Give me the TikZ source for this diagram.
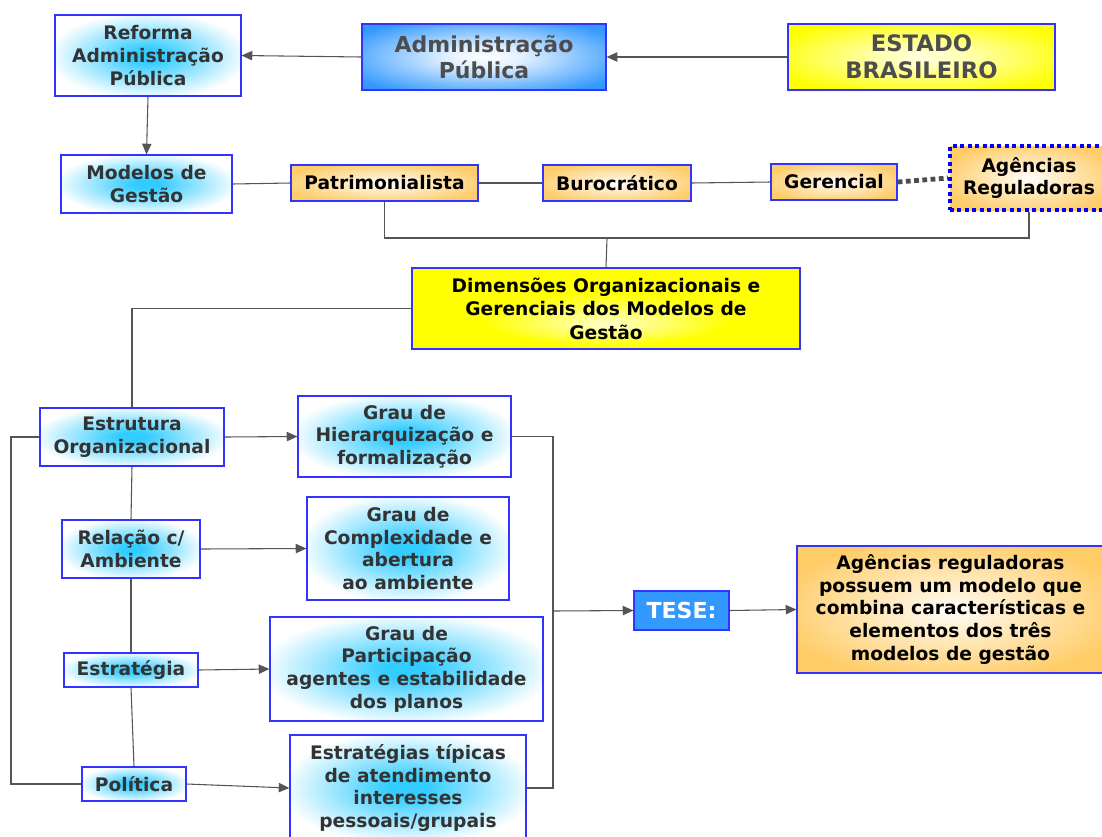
\documentclass[tikz,border=0pt]{standalone}
\usepackage{fontspec}
\setmainfont{DejaVu Sans}
\usetikzlibrary{arrows.meta}

\definecolor{bordblue}{RGB}{51,51,255}
\definecolor{glowcyan}{RGB}{51,204,255}
\definecolor{admblue}{RGB}{51,153,255}
\definecolor{sunyel}{RGB}{255,255,0}
\definecolor{peach}{RGB}{255,204,102}
\definecolor{txtgray}{RGB}{51,51,51}
\definecolor{headgray}{RGB}{77,77,77}
\definecolor{wire}{RGB}{85,85,85}
\definecolor{dotblue}{RGB}{0,0,255}

% soft fills: coloured centre fading out, or pale centre fading in
\pgfdeclareradialshading{blueglow}{\pgfpoint{0bp}{0bp}}{color(0bp)=(glowcyan); color(4bp)=(glowcyan); color(27bp)=(white); color(50bp)=(white)}
\pgfdeclareradialshading{admglow}{\pgfpoint{0bp}{0bp}}{color(0bp)=(white); color(8bp)=(white!85!admblue); color(31bp)=(admblue); color(50bp)=(admblue)}
\pgfdeclareradialshading{yelglow}{\pgfpoint{0bp}{0bp}}{color(0bp)=(white!88!sunyel); color(8bp)=(white!70!sunyel); color(30bp)=(sunyel); color(50bp)=(sunyel)}
\pgfdeclareradialshading{dimglow}{\pgfpoint{0bp}{-10bp}}{color(0bp)=(white!80!sunyel); color(16bp)=(sunyel); color(50bp)=(sunyel)}
\pgfdeclareradialshading{peachglow}{\pgfpoint{0bp}{0bp}}{color(0bp)=(white); color(6bp)=(white!75!peach); color(29bp)=(peach); color(50bp)=(peach)}

\tikzset{
  % a box given by its corners in pixel units: left/top/right/bottom
  span/.style args={#1/#2/#3/#4}{at={({(#1+#3)/2},{(#2+#4)/2})},
    minimum width={(#3-#1)*0.75pt}, minimum height={(#4-#2)*0.75pt}},
  panel/.style={draw=bordblue, line width=0.9pt, inner sep=0pt, align=center,
    font=\bfseries\fontsize{14}{17}\selectfont},
  cyanbox/.style={panel, shading=blueglow, text=txtgray},
  peachbox/.style={panel, shading=peachglow, text=black},
  conn/.style={draw=wire, line width=0.8pt},
  arr/.style={conn, -{Triangle[length=8pt,width=7pt]}},
}

\begin{document}
\begin{tikzpicture}[x=0.75pt,y=-0.75pt]
\clip (0,0) rectangle (1102,836);
\fill[white] (0,0) rectangle (1102,836);

% top row
\node[cyanbox, span=55/15/241/96] (reforma) {Reforma\\Administração\\Pública};
\node[panel, shading=admglow, text=headgray, font=\bfseries\fontsize{16.5}{19.5}\selectfont,
  span=362/24/606/90] (admin) {Administração\\Pública};
\node[panel, shading=yelglow, text=headgray, font=\bfseries\fontsize{17}{20}\selectfont,
  span=788/24/1055/90] (estado) {ESTADO\\BRASILEIRO};

% management models
\node[cyanbox, span=61/155/232/213] (modelos) {Modelos de\\Gestão};
\node[peachbox, span=291/165/478/201] (patri) {Patrimonialista};
\node[peachbox, span=543/165/691/201] (buro) {Burocrático};
\node[peachbox, span=771/164/897/200] (geren) {Gerencial};
\node[peachbox, draw=dotblue, line width=3pt, dash pattern=on 3pt off 2.6pt,
  span=950/146/1108/210] (agenc) {Agências\\Reguladoras};

\node[panel, shading=dimglow, text=black, font=\bfseries\fontsize{14}{17.6}\selectfont,
  span=412/268/800/349] (dimen) {Dimensões Organizacionais e\\Gerenciais dos Modelos de\\Gestão};

% dimensions
\node[cyanbox, span=40/408/224/466] (estru) {Estrutura\\Organizacional};
\node[cyanbox, span=62/520/200/578] (rela) {Relação c/\\Ambiente};
\node[cyanbox, span=64/653/198/687] (estra) {Estratégia};
\node[cyanbox, span=82/767/186/801] (polit) {Política};

\node[cyanbox, span=298/396/511/477] (hier) {Grau de\\Hierarquização e\\formalização};
\node[cyanbox, span=307/497/509/600] (compl) {Grau de\\Complexidade e\\abertura\\ ao ambiente};
\node[cyanbox, span=270/617/543/721] (partic) {Grau de\\Participação\\agentes e estabilidade\\dos planos};
\node[cyanbox, span=290/735/526/841] (tipic) {Estratégias típicas\\de atendimento\\interesses\\pessoais/grupais};

% thesis
\node[panel, fill=admblue, text=white, font=\bfseries\fontsize{16.5}{19}\selectfont,
  span=634/591/729/630] (tese) {TESE:};
\node[peachbox, span=797/546/1104/673] (final) {Agências reguladoras\\possuem um modelo que\\combina características e\\elementos dos três\\modelos de gestão};

% junction points
\coordinate (busTop) at (607,238);
\coordinate (loopL) at (11,437);
\coordinate (busR) at (553,611);

% connectors
\draw[arr] (estado.west) -- (admin.east);
\draw[arr] (admin.west) -- (reforma.east);
\draw[arr] (reforma.south) -- (modelos.north);

\draw[conn] (modelos.east) -- (patri.west);
\draw[conn] (patri.east) -- (buro.west);
\draw[conn] (buro.east) -- (geren.west);
\draw[draw=headgray, line width=3.6pt, dash pattern=on 3.6pt off 2.6pt] (geren.east) -- (agenc.west);

\draw[conn] (patri.south) |- (agenc.south |- busTop) -- (agenc.south);
\draw[conn] (busTop) -- (dimen.north);
\draw[conn] (dimen.west) -| (estru.north);

\draw[conn] (estru.south) -- (rela.north);
\draw[conn] (rela.south) -- (estra.north);
\draw[conn] (estra.south) -- (polit.north);
\draw[conn] (estru.west) -- (loopL) |- (polit.west);

\draw[arr] (estru.east) -- (hier.west);
\draw[arr] (rela.east) -- (compl.west);
\draw[arr] (estra.east) -- (partic.west);
\draw[arr] (polit.east) -- (tipic.west);

\draw[conn] (hier.east) -| (busR |- tipic.east) -- (tipic.east);
\draw[arr] (busR) -- (tese.west);
\draw[arr] (tese.east) -- (final.west);
\end{tikzpicture}
\end{document}
